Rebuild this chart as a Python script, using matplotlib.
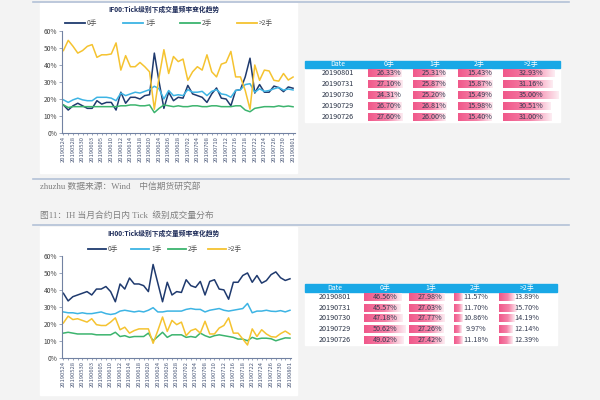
import numpy as np
import matplotlib
matplotlib.use("Agg")
import matplotlib.pyplot as plt
from matplotlib.patches import Rectangle
from matplotlib.colors import LinearSegmentedColormap

plt.rcParams['font.family'] = ['Noto Sans CJK SC', 'DejaVu Sans']

# trading days shown on the x axis
dates = ["20190524", "20190527", "20190528", "20190529", "20190530", "20190531",
         "20190603", "20190604", "20190605", "20190606", "20190610", "20190611",
         "20190612", "20190613", "20190614", "20190617", "20190618", "20190619",
         "20190620", "20190621", "20190624", "20190625", "20190626", "20190627",
         "20190628", "20190701", "20190702", "20190703", "20190704", "20190705",
         "20190708", "20190709", "20190710", "20190711", "20190712", "20190715",
         "20190716", "20190717", "20190718", "20190719", "20190722", "20190723",
         "20190724", "20190725", "20190726", "20190729", "20190730", "20190731",
         "20190801"]
names = ["0手", "1手", "2手", ">2手"]

# IF00 (%)
if_0 = [16.5, 13.5, 16, 17.5, 16, 14.5, 14.5, 19, 17, 18, 18, 13.5, 24, 17.5, 21, 21,
        20, 22, 22.5, 47, 30, 14.5, 24, 19, 21, 20.5, 28, 23, 22, 21, 18, 23, 26.5,
        20.5, 20, 16, 25, 25.5, 33, 44, 23.5, 28.5, 24, 24, 27.60, 26.70, 24.31,
        27.10, 26.33]
if_1 = [19.5, 18, 19.5, 20.5, 19.5, 19, 19, 21, 21, 21, 20.5, 19, 23.5, 22, 23, 24,
        23.5, 24.5, 25.5, 27.5, 26, 20, 25, 22, 22.5, 22, 25.5, 24, 24, 24.5, 22,
        24.5, 25.5, 23, 22.5, 21, 25, 25.5, 28.5, 29, 24, 26, 24.5, 25, 26.00,
        26.81, 25.20, 25.87, 25.31]
if_2 = [16.5, 15, 15.5, 15.5, 15.5, 15.5, 15.5, 15.5, 15.5, 15.5, 15.5, 15.5, 16, 16,
        16.5, 16.5, 16, 16, 16.5, 12, 14.5, 16.5, 16, 15.5, 16, 15.5, 15.5, 16, 16,
        15.5, 15.5, 16, 16, 15.5, 15.5, 15.5, 16, 16, 13.5, 12.5, 14.5, 15, 15.5,
        15.5, 15.40, 15.98, 15.49, 15.87, 15.43]
if_3 = [48.5, 54.5, 51, 47, 48.5, 51, 52, 44.5, 46, 46, 46.5, 53, 37, 45.5, 39, 39,
        41.5, 39, 36, 14, 33, 49, 35, 45, 42, 43.5, 31, 36, 39, 37, 46, 36, 33, 40.5,
        41.5, 48, 33, 33, 25, 14, 40, 31, 37, 36.5, 31.00, 30.51, 35.00, 31.16, 32.93]

# IH00 (%)
ih_0 = [38, 33.5, 36, 37, 38, 39, 37, 40.5, 40.5, 42, 39, 33, 43.5, 40.5, 47, 43.5,
        43.5, 42.5, 39, 55, 44, 33, 44.5, 37, 39, 38.5, 46, 42.5, 41.5, 45, 37, 45,
        46, 40.5, 40, 34.5, 44.5, 44.5, 48.5, 50, 44.5, 48.5, 44, 45.5, 49.02, 50.62,
        47.18, 45.57, 46.56]
ih_1 = [27, 26.5, 26.5, 26, 26.5, 26, 26, 26.5, 27, 26, 25.5, 26, 27.5, 28, 27.5, 27,
        27.5, 27, 28, 29.5, 27, 27, 27.5, 27.5, 27.5, 27.5, 28.5, 29, 28.5, 28.5, 27,
        28, 28.5, 29, 28, 27.5, 28, 28.5, 29, 32, 26.5, 27.5, 27.5, 28, 27.42, 27.26,
        27.77, 27.03, 27.98]
ih_2 = [14.5, 15, 14.5, 14, 14, 14, 14, 13.5, 13.5, 13.5, 13.5, 15, 12.5, 13, 12, 12.5,
        12.5, 12.5, 14.5, 10, 12.5, 15, 12, 13.5, 13.5, 13.5, 12, 12.5, 12, 14.5, 13,
        12, 13, 13.5, 13, 12.5, 12, 11, 11, 10, 12, 11, 11.5, 11.5, 11.18, 9.97, 10.86,
        11.70, 11.57]
ih_3 = [20.5, 24.5, 22.5, 23, 22, 21, 23, 19.5, 19, 19, 21, 23.5, 16.5, 18, 14.5, 16,
        17, 17, 17, 8.5, 16, 24, 15.5, 22, 19.5, 21, 13, 16, 17, 14.5, 21.5, 14, 14,
        17.5, 19, 23.5, 14.5, 14.5, 11, 7.5, 17, 12.5, 16.5, 14, 12.39, 12.14, 14.19,
        15.70, 13.89]

# value that fills a whole cell in the data-bar columns
if_bar_full = [34, 34, 20, 35.6]
ih_bar_full = [53, 33.5, 56, 50]

colors = ["#1f3a6e", "#3db4e4", "#3cb46e", "#f5c330"]
bar_cmap = LinearSegmentedColormap.from_list(
    "bars", [(0, "#f0588a"), (0.55, "#f582a8"), (1, "#fdeef3")])

fig = plt.figure(figsize=(6, 4), dpi=100)
fig.patch.set_facecolor("#f3f3f3")
page = fig.add_axes([0, 0, 1, 1])
page.axis("off")


def px_axes(x0, y0, x1, y1):
    return fig.add_axes([x0 / 600, 1 - y1 / 400, (x1 - x0) / 600, (y1 - y0) / 400])


# page furniture
page.add_patch(Rectangle((40, 3), 257, 170, color="white", zorder=0))
page.add_patch(Rectangle((40, 227), 257, 168, color="white", zorder=0))
for y in (1.8, 179, 225):
    page.plot([33, 569], [y, y], color="#b3c1d7", lw=1.2, zorder=1)
serif = ["Liberation Serif", "Noto Sans CJK SC"]
page.text(40, 186, "zhuzhu 数据来源：Wind　中信期货研究部", fontsize=6.3,
          color="#808080", va="center", family=serif)
page.text(40, 216, "图11：IH 当月合约日内 Tick  级别成交量分布", fontsize=6.3,
          color="#808080", va="center", family=serif)


def draw_chart(box, title, title_y, leg_y, leg_x, leg_len, data):
    ax = px_axes(*box)
    ax.set_facecolor("none")
    x = np.arange(len(dates))
    for vals, c in zip(data, colors):
        ax.plot(x, np.array(vals) / 100, color=c, lw=1.1)
    ax.set_xlim(-0.3, len(dates) - 1 + 0.3)
    ax.set_ylim(0, 0.6)
    ax.set_yticks(np.arange(0, 0.61, 0.1))
    ax.set_yticklabels([f"{v}%" for v in range(0, 61, 10)])
    ax.set_xticks(x[::2])
    ax.set_xticklabels(dates[::2], rotation=90)
    ax.set_xticks(x[1::2], minor=True)
    for s in ("top", "right"):
        ax.spines[s].set_visible(False)
    for s in ("left", "bottom"):
        ax.spines[s].set_color("#7282a2")
        ax.spines[s].set_linewidth(0.8)
    ax.tick_params(axis="x", which="both", labelsize=4.2, length=1.5, width=0.5,
                   pad=1, color="#7282a2", labelcolor="#4a5878")
    ax.tick_params(axis="y", labelsize=4.8, length=2, width=0.5, pad=1.5,
                   color="#7282a2", labelcolor="#404040")

    page.text(164, title_y, title, ha="center", va="center", fontsize=4.9,
              fontweight="bold", color="#1f2d5a")
    for hx, name, c in zip(leg_x, names, colors):
        page.plot([hx, hx + leg_len], [leg_y, leg_y], color=c, lw=1.3)
        page.text(hx + leg_len + 2, leg_y, name, fontsize=4.8, va="center",
                  color="#505050")


def draw_table(left, right, top, head_h, row_h, date_x, col_x, col_w, data, bar_full):
    n = 5
    bottom = top + head_h + n * row_h
    page.add_patch(Rectangle((left, top), right - left, bottom - top,
                             color="white", zorder=1))
    page.add_patch(Rectangle((left, top), right - left, head_h,
                             color="#19a8e6", zorder=2))
    hy = top + head_h / 2
    page.text(date_x, hy, "Date", ha="center", va="center", fontsize=5,
              color="white", zorder=3)
    for cx, w, name in zip(col_x, col_w, names):
        page.text(cx + w / 2, hy, name, ha="center", va="center", fontsize=5,
                  color="white", zorder=3)
    rows_dates = dates[::-1][:n]
    grad = np.linspace(0, 1, 256).reshape(1, -1)
    for r in range(n):
        yc = top + head_h + (r + 0.5) * row_h
        page.text(date_x, yc, rows_dates[r], ha="center", va="center",
                  fontsize=5.2, color="#2a3346", zorder=3)
        for k in range(4):
            v = data[k][::-1][r]
            bw = col_w[k] * min(v / bar_full[k], 1)
            page.imshow(grad, cmap=bar_cmap, aspect="auto", interpolation="bilinear",
                        extent=(col_x[k], col_x[k] + bw, yc + 4, yc - 4), zorder=2)
            page.text(col_x[k] + col_w[k] / 2, yc, f"{v:.2f}%", ha="center",
                      va="center", fontsize=5.2, color="#333a50", zorder=3)


draw_chart((62, 31, 294.5, 133), "IF00:Tick级别下成交量频率变化趋势", 9.5, 22.5,
           [65, 123, 180, 237], 20, [if_0, if_1, if_2, if_3])
draw_chart((62, 256, 291.4, 357.7), "IH00:Tick级别下成交量频率变化趋势", 233, 249,
           [88, 131, 168, 208], 18, [ih_0, ih_1, ih_2, ih_3])

draw_table(305, 560, 60.5, 7.5, 10.8, 338, [368, 413, 458, 503], [43, 43, 43, 56],
           [if_0, if_1, if_2, if_3], if_bar_full)
draw_table(305, 557, 284, 8, 10.6, 335, [364, 409, 454, 499], [43, 43, 43, 56],
           [ih_0, ih_1, ih_2, ih_3], ih_bar_full)

page.set_xlim(0, 600)
page.set_ylim(400, 0)

fig.savefig("out.png", dpi=100, facecolor=fig.get_facecolor())
